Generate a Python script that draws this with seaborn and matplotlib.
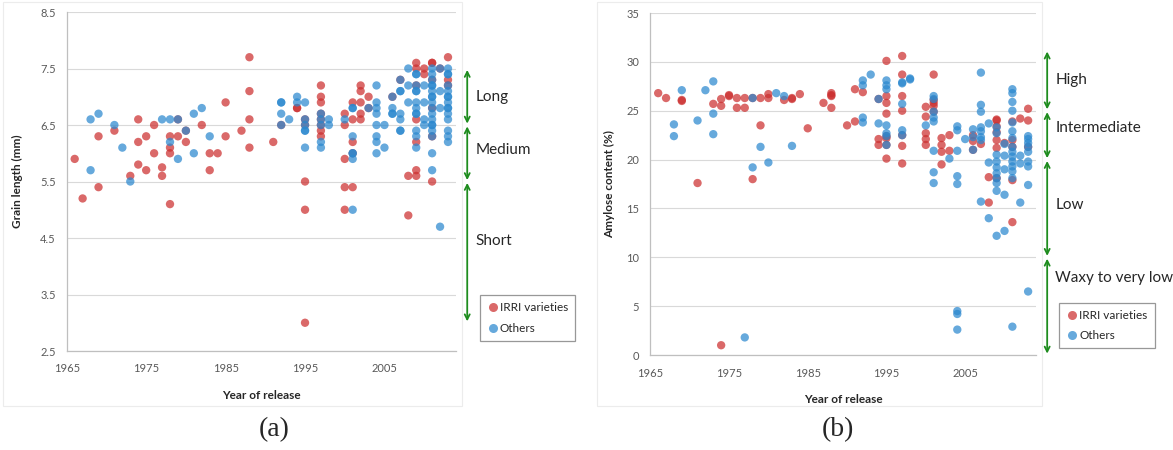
import matplotlib
matplotlib.use('Agg')
import matplotlib.pyplot as plt
from matplotlib.lines import Line2D
from matplotlib.patches import Rectangle
import pandas as pd
import seaborn as sns

GROUP_ORDER = ['IRRI varieties', 'Others']
GROUP_PALETTE = {'IRRI varieties': '#CC2F2F', 'Others': '#2B88CF'}
GREEN = '#1E8C1E'
TICK_COL = '#595959'
YEAR_TICKS = [1965, 1975, 1985, 1995, 2005]

# (a) grain length (mm) by year of release
IRRI_GRAIN = [
    (1966, 5.9), (1967, 5.2), (1969, 6.3), (1969, 5.4), (1971, 6.4), (1973, 5.6),
    (1974, 6.6), (1974, 6.2), (1974, 5.8), (1975, 6.3), (1975, 5.7), (1976, 6.5),
    (1976, 6.0), (1977, 5.75), (1977, 5.6), (1978, 6.3), (1978, 6.1), (1978, 6.0),
    (1978, 5.1), (1979, 6.3), (1979, 6.6), (1980, 6.2), (1980, 6.4), (1982, 6.5),
    (1983, 6.0), (1983, 5.7), (1984, 6.0), (1985, 6.9), (1985, 6.3), (1987, 6.4),
    (1988, 7.7), (1988, 7.1), (1988, 6.6), (1988, 6.1), (1991, 6.2), (1992, 6.5),
    (1994, 6.8), (1994, 6.8), (1995, 6.6), (1995, 6.5), (1995, 5.5), (1995, 5.0),
    (1995, 3.0), (1997, 7.2), (1997, 7.0), (1997, 6.9), (1997, 6.7), (1997, 6.6),
    (1997, 6.5), (1997, 6.4), (1997, 6.3), (2000, 6.7), (2000, 6.5), (2000, 5.9),
    (2000, 5.4), (2000, 5.0), (2001, 6.9), (2001, 6.6), (2001, 6.2), (2001, 6.0),
    (2001, 5.4), (2002, 7.2), (2002, 7.1), (2002, 6.9), (2002, 6.7), (2002, 6.6),
    (2003, 7.0), (2003, 6.8), (2006, 7.0), (2007, 7.3), (2008, 5.6), (2008, 4.9),
    (2009, 7.6), (2009, 7.5), (2009, 7.2), (2009, 6.6), (2009, 6.2), (2009, 5.7),
    (2009, 5.6), (2010, 7.5), (2010, 7.4), (2011, 7.6), (2011, 7.6), (2011, 7.3),
    (2011, 6.8), (2011, 6.3), (2011, 5.5), (2012, 7.5), (2013, 7.7), (2013, 7.3),
    (2013, 7.2),
]
OTHER_GRAIN = [
    (1968, 6.6), (1968, 5.7), (1969, 6.7), (1971, 6.5), (1972, 6.1), (1973, 5.5),
    (1977, 6.6), (1978, 6.6), (1978, 6.2), (1979, 5.9), (1979, 6.6), (1980, 6.4),
    (1981, 6.7), (1981, 6.0), (1982, 6.8), (1983, 6.3), (1992, 6.9), (1992, 6.9),
    (1992, 6.7), (1992, 6.5), (1993, 6.6), (1994, 7.0), (1994, 6.9), (1995, 6.9),
    (1995, 6.6), (1995, 6.5), (1995, 6.4), (1995, 6.4), (1995, 6.1), (1997, 6.7),
    (1997, 6.6), (1997, 6.5), (1997, 6.2), (1997, 6.1), (1998, 6.6), (1998, 6.5),
    (2000, 6.6), (2001, 6.8), (2001, 6.8), (2001, 6.3), (2001, 6.0), (2001, 6.0),
    (2001, 5.9), (2001, 5.0), (2003, 6.8), (2004, 7.2), (2004, 6.9), (2004, 6.8),
    (2004, 6.7), (2004, 6.5), (2004, 6.3), (2004, 6.2), (2004, 6.0), (2005, 6.5),
    (2005, 6.1), (2006, 7.0), (2006, 6.8), (2006, 6.7), (2006, 6.7), (2007, 7.3),
    (2007, 7.1), (2007, 7.1), (2007, 6.7), (2007, 6.6), (2007, 6.4), (2007, 6.4),
    (2008, 7.5), (2008, 7.2), (2008, 6.9), (2009, 7.4), (2009, 7.4), (2009, 7.2),
    (2009, 7.1), (2009, 7.1), (2009, 6.9), (2009, 6.8), (2009, 6.7), (2009, 6.7),
    (2009, 6.4), (2009, 6.3), (2009, 6.1), (2010, 7.2), (2010, 6.9), (2010, 6.6),
    (2010, 6.5), (2011, 7.5), (2011, 7.4), (2011, 7.3), (2011, 7.2), (2011, 7.2),
    (2011, 7.1), (2011, 7.0), (2011, 7.0), (2011, 6.9), (2011, 6.8), (2011, 6.7),
    (2011, 6.6), (2011, 6.5), (2011, 6.5), (2011, 6.4), (2011, 6.3), (2011, 6.0),
    (2011, 5.7), (2012, 7.5), (2012, 7.1), (2012, 6.8), (2012, 4.7), (2013, 7.5),
    (2013, 7.4), (2013, 7.4), (2013, 7.2), (2013, 7.1), (2013, 7.0), (2013, 7.0),
    (2013, 6.9), (2013, 6.8), (2013, 6.8), (2013, 6.7), (2013, 6.6), (2013, 6.4),
    (2013, 6.3), (2013, 6.2),
]

# (b) amylose content (%) by year of release
IRRI_AMYLOSE = [
    (1966, 26.8), (1967, 26.3), (1969, 26.1), (1969, 26.0), (1971, 17.6), (1973, 25.7),
    (1974, 25.5), (1974, 26.2), (1974, 1.0), (1975, 26.6), (1975, 26.5), (1976, 26.3),
    (1976, 25.3), (1977, 26.3), (1977, 25.3), (1978, 26.3), (1978, 18.0), (1979, 26.3),
    (1979, 23.5), (1980, 26.3), (1980, 26.7), (1982, 26.1), (1983, 26.3), (1983, 26.2),
    (1984, 26.7), (1985, 23.2), (1987, 25.8), (1988, 26.8), (1988, 26.6), (1988, 26.5),
    (1988, 25.3), (1990, 23.5), (1991, 23.9), (1991, 27.2), (1992, 26.9), (1994, 26.2),
    (1994, 22.1), (1994, 21.5), (1995, 30.1), (1995, 26.5), (1995, 25.8), (1995, 24.7),
    (1995, 22.4), (1995, 22.2), (1995, 21.5), (1995, 20.1), (1997, 30.6), (1997, 28.7),
    (1997, 26.5), (1997, 25.0), (1997, 22.5), (1997, 21.4), (1997, 19.6), (2000, 25.4),
    (2000, 24.4), (2000, 22.7), (2000, 22.1), (2000, 21.5), (2001, 28.7), (2001, 26.1),
    (2001, 25.8), (2001, 25.5), (2001, 24.9), (2002, 22.2), (2002, 21.5), (2002, 20.8),
    (2002, 19.5), (2003, 22.5), (2003, 20.9), (2006, 22.5), (2006, 21.9), (2006, 21.0),
    (2007, 21.6), (2008, 18.2), (2008, 15.6), (2009, 24.1), (2009, 24.0), (2009, 23.4),
    (2009, 22.8), (2009, 22.0), (2009, 21.2), (2009, 18.1), (2010, 21.7), (2011, 23.9),
    (2011, 22.0), (2011, 21.3), (2011, 17.9), (2011, 13.6), (2012, 24.2), (2013, 25.2),
    (2013, 24.0), (2013, 21.3),
]
OTHER_AMYLOSE = [
    (1968, 23.6), (1968, 22.4), (1969, 27.1), (1971, 24.0), (1972, 27.1), (1973, 28.0),
    (1973, 24.7), (1973, 22.6), (1977, 1.8), (1978, 26.3), (1978, 19.2), (1979, 21.3),
    (1980, 19.7), (1981, 26.8), (1982, 26.5), (1983, 21.4), (1992, 28.1), (1992, 27.6),
    (1992, 24.3), (1992, 23.8), (1993, 28.7), (1994, 26.2), (1994, 23.7), (1995, 28.1),
    (1995, 27.6), (1995, 27.2), (1995, 23.5), (1995, 22.7), (1995, 22.4), (1995, 21.5),
    (1997, 27.9), (1997, 27.8), (1997, 25.7), (1997, 23.0), (1997, 22.5), (1998, 28.3),
    (1998, 28.2), (2000, 23.5), (2001, 26.5), (2001, 26.2), (2001, 24.9), (2001, 24.3),
    (2001, 23.9), (2001, 20.9), (2001, 18.7), (2001, 17.6), (2003, 20.1), (2004, 23.4),
    (2004, 23.0), (2004, 20.9), (2004, 18.3), (2004, 17.5), (2004, 4.5), (2004, 4.2),
    (2004, 2.6), (2005, 22.1), (2006, 23.1), (2006, 22.3), (2006, 21.0), (2007, 28.9),
    (2007, 25.6), (2007, 24.9), (2007, 23.3), (2007, 22.9), (2007, 22.3), (2007, 22.0),
    (2007, 15.7), (2008, 23.7), (2008, 19.7), (2008, 14.0), (2009, 23.3), (2009, 22.7),
    (2009, 20.5), (2009, 19.8), (2009, 19.2), (2009, 18.6), (2009, 18.1), (2009, 17.6),
    (2009, 16.8), (2009, 12.2), (2010, 21.6), (2010, 20.4), (2010, 19.0), (2010, 16.4),
    (2010, 12.7), (2011, 27.2), (2011, 26.8), (2011, 25.9), (2011, 25.0), (2011, 23.8),
    (2011, 22.9), (2011, 22.2), (2011, 21.3), (2011, 20.8), (2011, 20.3), (2011, 19.8),
    (2011, 19.3), (2011, 18.8), (2011, 18.1), (2011, 2.9), (2012, 20.4), (2012, 19.6),
    (2012, 15.6), (2013, 22.4), (2013, 22.1), (2013, 21.7), (2013, 21.3), (2013, 20.8),
    (2013, 19.8), (2013, 19.3), (2013, 17.4), (2013, 6.5),
]

GRAIN_CLASSES = [('Long', 7.5, 6.5, 7.0), ('Medium', 6.5, 5.5, 6.05), ('Short', 5.5, 3.0, 4.45)]
AMYLOSE_CLASSES = [('High', 31.2, 25.0, 28.1), ('Intermediate', 25.0, 20.0, 23.2),
                   ('Low', 20.0, 10.0, 15.35), ('Waxy to very low', 10.0, 0.0, 7.9)]


def to_frame(irri, others):
    # IRRI first so Others get drawn on top, like the original
    d1 = pd.DataFrame(irri, columns=['year', 'value']).assign(group='IRRI varieties')
    d2 = pd.DataFrame(others, columns=['year', 'value']).assign(group='Others')
    return pd.concat([d1, d2], ignore_index=True)


def panel(fig, rect, d, yticks, ylim, ylabel, ylabelpad, classes, tag, tag_x, legend_xy):
    ax = fig.add_axes(rect)
    sns.scatterplot(data=d, x='year', y='value', hue='group', hue_order=GROUP_ORDER,
                    palette=GROUP_PALETTE, s=36, alpha=0.72, linewidth=0, legend=False, ax=ax)
    ax.set_xlim(1965, 2014)
    ax.set_ylim(*ylim)
    ax.set_xticks(YEAR_TICKS)
    ax.set_yticks(yticks)
    ax.set_yticklabels([f'{v:g}' if isinstance(v, int) else f'{v:.1f}' for v in yticks])
    ax.grid(axis='y', color='#d9d9d9', lw=0.8)
    ax.grid(axis='x', visible=False)
    ax.set_axisbelow(True)
    for s in ['top', 'right']:
        ax.spines[s].set_visible(False)
    for s in ['left', 'bottom']:
        ax.spines[s].set_color('#bfbfbf')
        ax.spines[s].set_linewidth(0.9)
    ax.tick_params(axis='both', length=4, width=0.8, color='#bfbfbf', labelcolor=TICK_COL, labelsize=8)
    ax.tick_params(axis='y', pad=4)
    ax.tick_params(axis='x', pad=5)
    ax.set_xlabel('Year of release', fontweight='bold', fontsize=8.5, labelpad=11)
    ax.set_ylabel(ylabel, fontweight='bold', fontsize=8.5, labelpad=ylabelpad)

    trans = ax.get_yaxis_transform()
    for name, top, bottom, ymid in classes:
        ax.annotate('', xy=(1.029, top), xytext=(1.029, bottom), xycoords=trans, textcoords=trans,
                    arrowprops=dict(arrowstyle='<->', color=GREEN, lw=1.3, shrinkA=1, shrinkB=1,
                                    mutation_scale=9))
        ax.text(1.05, ymid, name, transform=trans, ha='left', va='center', fontsize=11, color='#262626')

    handles = [Line2D([], [], marker='o', ls='', markersize=6.5, markeredgewidth=0,
                      markerfacecolor=GROUP_PALETTE[g], alpha=0.72, label=g) for g in GROUP_ORDER]
    leg = fig.legend(handles=handles, loc='upper left', bbox_to_anchor=legend_xy, frameon=True,
                     fancybox=False, fontsize=8.5, handletextpad=0.1, handlelength=1.0,
                     borderpad=0.6, labelspacing=0.8, borderaxespad=0)
    leg.get_frame().set_edgecolor('#7f7f7f')
    leg.get_frame().set_linewidth(0.9)
    for t in leg.get_texts():
        t.set_color('#262626')

    fig.text(tag_x, 0.045, tag, ha='center', va='center', fontsize=20, family='Liberation Serif')
    return ax


def main():
    sns.set_style('white')
    plt.rcParams['font.family'] = ['Lato', 'DejaVu Sans']

    fig = plt.figure(figsize=(11.73, 4.5), dpi=100)
    # faint chart-area frames
    for x0, x1 in [(3, 462), (597, 1042)]:
        fig.add_artist(Rectangle((x0 / 1173, 1 - 406 / 450), (x1 - x0) / 1173, 404 / 450,
                                 transform=fig.transFigure, fill=False, ec='#ececec', lw=0.8))

    da = to_frame(IRRI_GRAIN, OTHER_GRAIN)
    panel(fig, [0.0569, 0.22, 0.3318, 0.7533], da, [2.5, 3.5, 4.5, 5.5, 6.5, 7.5, 8.5], (2.5, 8.5),
          'Grain length (mm)', 12, GRAIN_CLASSES, '(a)', 0.234, (0.409, 0.344))

    db = to_frame(IRRI_AMYLOSE, OTHER_AMYLOSE)
    panel(fig, [0.5544, 0.2111, 0.3288, 0.76], db, [0, 5, 10, 15, 20, 25, 30, 35], (0, 35),
          'Amylose content (%)', 8, AMYLOSE_CLASSES, '(b)', 0.714, (0.903, 0.327))

    fig.savefig('out.png', dpi=100, facecolor='white')
    plt.close(fig)


if __name__ == '__main__':
    main()
